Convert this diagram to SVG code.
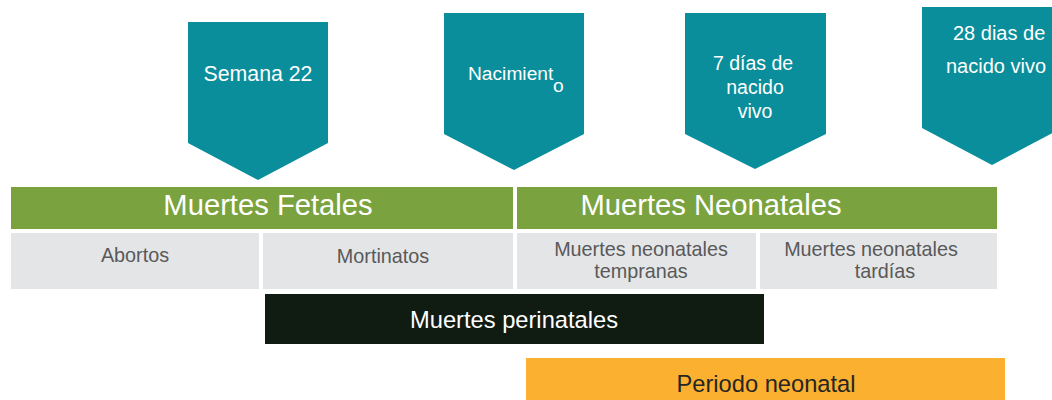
<svg xmlns="http://www.w3.org/2000/svg" width="1052" height="400" viewBox="0 0 1052 400">
<style>
.pent{fill:#0A8E9B}
.green{fill:#7AA33F}
.cell{fill:#E4E5E7}
.wt{fill:#FFFFFF;font-family:"Liberation Sans",Arial,sans-serif;text-anchor:middle}
.gt{fill:#595959;font-family:"Liberation Sans",Arial,sans-serif;text-anchor:middle;font-size:19.8px}
</style>
<rect width="1052" height="400" fill="#FFFFFF"/>
<g id="semana22">
<polygon class="pent" points="188,22 328,22 328,143 258,180 188,143"/>
<text class="wt" x="258" y="81" font-size="21.3">Semana 22</text>
</g>
<g id="nacimiento">
<polygon class="pent" points="444,13 584,13 584,134 514,170 444,134"/>
<text class="wt" x="468" y="80" font-size="19.2" style="text-anchor:start">Nacimient</text>
<text class="wt" x="553" y="92" font-size="19.2" style="text-anchor:start">o</text>
</g>
<g id="dias7">
<polygon class="pent" points="685,13 826,13 826,134 755,169 685,134"/>
<text class="wt" x="753" y="70" font-size="19.5">7 días de</text>
<text class="wt" x="755" y="94" font-size="19.5">nacido</text>
<text class="wt" x="755" y="118" font-size="19.5">vivo</text>
</g>
<g id="dias28">
<polygon class="pent" points="922,7 1062,7 1062,128 992,165 922,128"/>
<text class="wt" x="953" y="40" font-size="20" style="text-anchor:start">28 dias de</text>
<text class="wt" x="946" y="73" font-size="20" style="text-anchor:start">nacido vivo</text>
</g>
<g id="fetales">
<rect class="green" x="11" y="187" width="502" height="42"/>
<text class="wt" x="268" y="215" font-size="29.2">Muertes Fetales</text>
</g>
<g id="neonatales">
<rect class="green" x="517" y="187" width="480" height="42"/>
<text class="wt" x="711" y="215" font-size="29.2">Muertes Neonatales</text>
</g>
<g id="abortos">
<rect class="cell" x="11" y="233" width="248" height="56"/>
<text class="gt" x="135" y="262">Abortos</text>
</g>
<g id="mortinatos">
<rect class="cell" x="263" y="233" width="250" height="56"/>
<text class="gt" x="383" y="263">Mortinatos</text>
</g>
<g id="tempranas">
<rect class="cell" x="517" y="233" width="239" height="56"/>
<text class="gt" x="641" y="256">Muertes neonatales</text>
<text class="gt" x="641" y="278">tempranas</text>
</g>
<g id="tardias">
<rect class="cell" x="760" y="233" width="237" height="56"/>
<text class="gt" x="871" y="256">Muertes neonatales</text>
<text class="gt" x="885" y="278">tardías</text>
</g>
<g id="perinatales">
<rect x="265" y="294" width="499" height="50" fill="#101B12"/>
<text class="wt" x="514" y="328" font-size="23.7">Muertes perinatales</text>
</g>
<g id="periodo">
<rect x="526" y="358" width="479" height="42" fill="#FBB12F"/>
<text x="766" y="392" font-size="23.7" fill="#262626" font-family="Liberation Sans, Arial, sans-serif" text-anchor="middle">Periodo neonatal</text>
</g>
<g id="connectors"></g>
</svg>
